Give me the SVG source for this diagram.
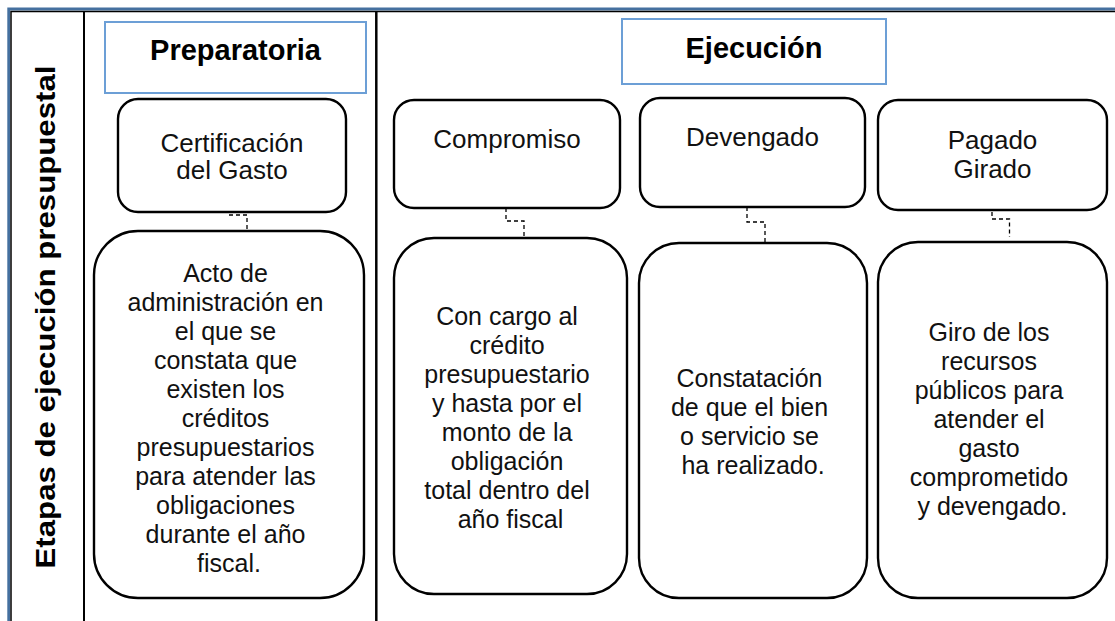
<svg xmlns="http://www.w3.org/2000/svg" width="1115" height="621" viewBox="0 0 1115 621">
  <defs>
    <style>
      .frame-blue { fill: none; stroke: #45709f; stroke-width: 2.8; }
      .frame-black { fill: none; stroke: #000; stroke-width: 1.5; }
      .divider { stroke: #000; fill: none; }
      .phase { fill: #fff; stroke: #6c9fd6; stroke-width: 2; }
      .box { fill: #fff; stroke: #000; stroke-width: 2.4; }
      .title { font-family: "Liberation Sans", Arial, sans-serif; font-weight: bold; font-size: 29px; fill: #000; text-anchor: middle; }
      .side { font-family: "Liberation Sans", Arial, sans-serif; font-weight: bold; font-size: 28px; fill: #000; text-anchor: middle; }
      .head { font-family: "Liberation Sans", Arial, sans-serif; font-size: 26px; fill: #111; text-anchor: middle; }
      .body { font-family: "Liberation Sans", Arial, sans-serif; font-size: 25px; fill: #111; text-anchor: middle; }
      .conn { fill: none; stroke: #000; stroke-width: 1.3; stroke-dasharray: 4 3; }
    </style>
  </defs>

  <rect width="1115" height="621" fill="#fff"/>

  <!-- frame -->
  <g id="frame">
    <path class="frame-blue" d="M8.7,621 V9 H1115"/>
    <path class="frame-black" d="M11,621 V11.5 H1115"/>
    <line class="divider" x1="84" y1="12" x2="84" y2="621" stroke-width="2"/>
    <line class="divider" x1="376.3" y1="12" x2="376.3" y2="621" stroke-width="2.5"/>
  </g>

  <!-- side label -->
  <g id="side-label">
    <text class="side" transform="translate(55,317) rotate(-90)" textLength="503" lengthAdjust="spacingAndGlyphs">Etapas de ejecución presupuestal</text>
  </g>

  <!-- phase headers -->
  <g id="preparatoria">
    <rect class="phase" x="105" y="22" width="261" height="71"/>
    <text class="title" x="235.5" y="60">Preparatoria</text>
  </g>
  <g id="ejecucion">
    <rect class="phase" x="622" y="19" width="264" height="65"/>
    <text class="title" x="754" y="58">Ejecución</text>
  </g>

  <!-- connectors -->
  <g id="connectors">
    <path class="conn" d="M229,201 V215 H247 V231"/>
    <path class="conn" d="M506,208 V221 H524 V238"/>
    <path class="conn" d="M747,207 V222 H765 V242"/>
    <path class="conn" d="M992,205 V219 H1009.5 V237"/>
  </g>

  <!-- top boxes -->
  <g id="certificacion">
    <rect class="box" x="118" y="99" width="228" height="113" rx="20" ry="20"/>
    <text class="head" x="232" y="152">Certificación</text>
    <text class="head" x="232" y="179">del Gasto</text>
  </g>
  <g id="compromiso">
    <rect class="box" x="394" y="100" width="226" height="108" rx="20" ry="20"/>
    <text class="head" x="507" y="148">Compromiso</text>
  </g>
  <g id="devengado">
    <rect class="box" x="640" y="98" width="225" height="109" rx="20" ry="20"/>
    <text class="head" x="752.5" y="146">Devengado</text>
  </g>
  <g id="pagado">
    <rect class="box" x="878" y="100" width="229" height="110" rx="20" ry="20"/>
    <text class="head" x="992.5" y="149">Pagado</text>
    <text class="head" x="992.5" y="178">Girado</text>
  </g>

  <!-- bottom boxes -->
  <g id="desc-certificacion">
    <rect class="box" x="94" y="231" width="270" height="367" rx="44" ry="44"/>
    <text class="body" x="229">
      <tspan x="229" y="282">Acto de</tspan>
      <tspan x="229" y="311">administración en</tspan>
      <tspan x="229" y="340">el que se</tspan>
      <tspan x="229" y="369">constata que</tspan>
      <tspan x="229" y="398">existen los</tspan>
      <tspan x="229" y="427">créditos</tspan>
      <tspan x="229" y="456">presupuestarios</tspan>
      <tspan x="229" y="485">para atender las</tspan>
      <tspan x="229" y="514">obligaciones</tspan>
      <tspan x="229" y="543">durante el año</tspan>
      <tspan x="229" y="572">fiscal.</tspan>
    </text>
  </g>
  <g id="desc-compromiso">
    <rect class="box" x="394" y="238" width="233" height="356" rx="40" ry="40"/>
    <text class="body" x="510.5">
      <tspan x="510.5" y="325">Con cargo al</tspan>
      <tspan x="510.5" y="354">crédito</tspan>
      <tspan x="510.5" y="383">presupuestario</tspan>
      <tspan x="510.5" y="412">y hasta por el</tspan>
      <tspan x="510.5" y="441">monto de la</tspan>
      <tspan x="510.5" y="470">obligación</tspan>
      <tspan x="510.5" y="499">total dentro del</tspan>
      <tspan x="510.5" y="528">año fiscal</tspan>
    </text>
  </g>
  <g id="desc-devengado">
    <rect class="box" x="639" y="243" width="228" height="355" rx="40" ry="40"/>
    <text class="body" x="753">
      <tspan x="753" y="387">Constatación</tspan>
      <tspan x="753" y="416">de que el bien</tspan>
      <tspan x="753" y="445">o servicio se</tspan>
      <tspan x="753" y="474">ha realizado.</tspan>
    </text>
  </g>
  <g id="desc-pagado">
    <rect class="box" x="878" y="242" width="229" height="356" rx="40" ry="40"/>
    <text class="body" x="992.5">
      <tspan x="992.5" y="341">Giro de los</tspan>
      <tspan x="992.5" y="370">recursos</tspan>
      <tspan x="992.5" y="399">públicos para</tspan>
      <tspan x="992.5" y="428">atender el</tspan>
      <tspan x="992.5" y="457">gasto</tspan>
      <tspan x="992.5" y="486">comprometido</tspan>
      <tspan x="992.5" y="515">y devengado.</tspan>
    </text>
  </g>
</svg>
